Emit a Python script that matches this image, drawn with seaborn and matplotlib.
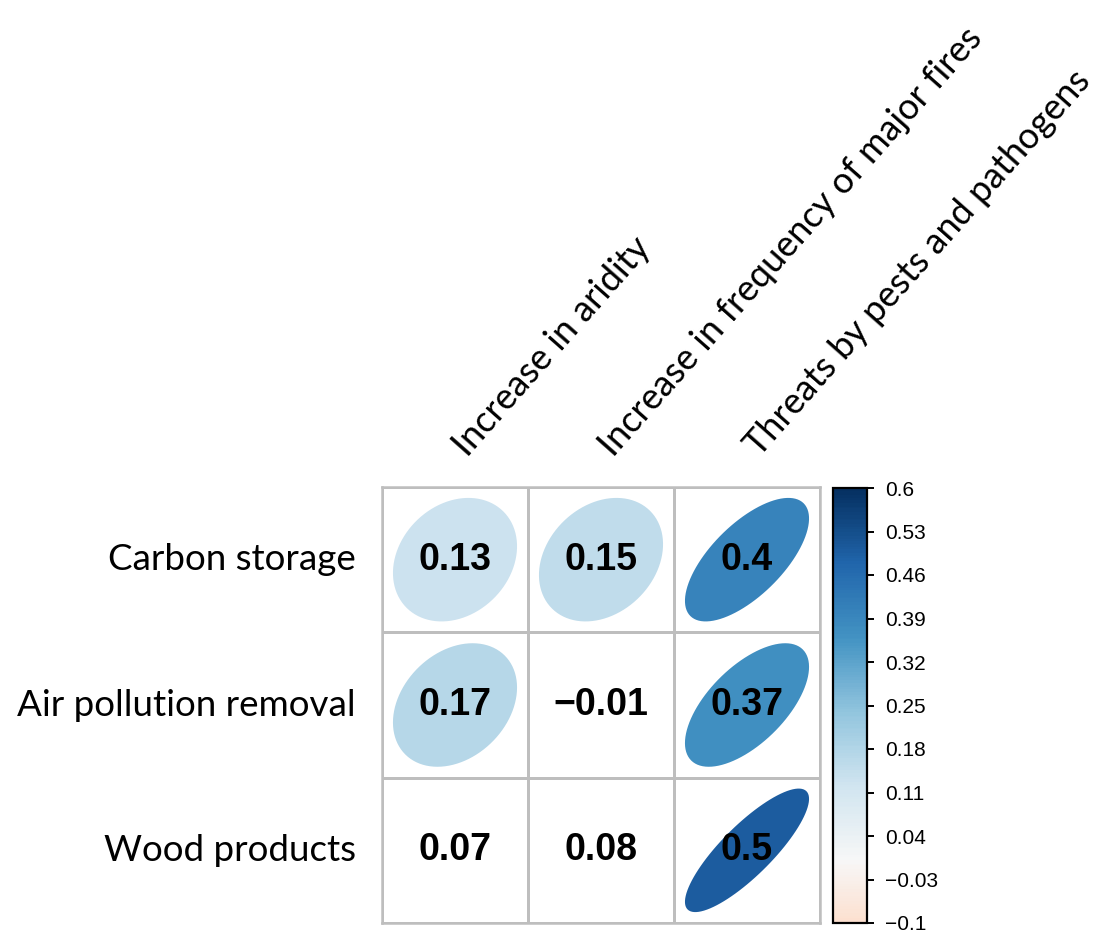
import numpy as np
import pandas as pd
import matplotlib
matplotlib.use("Agg")
import matplotlib.pyplot as plt
import seaborn as sns
from matplotlib.colors import ListedColormap, LinearSegmentedColormap, Normalize
from matplotlib.patches import Polygon
from matplotlib.transforms import offset_copy
import matplotlib as mpl

# ---- data ----
services = ["Carbon storage", "Air pollution removal", "Wood products"]
threats = ["Increase in aridity", "Increase in frequency of major fires",
           "Threats by pests and pathogens"]
values = [
    [0.13, 0.15, 0.40],
    [0.17, -0.01, 0.37],
    [0.07, 0.08, 0.50],
]
value_labels = [
    ["0.13", "0.15", "0.4"],
    ["0.17", "\u22120.01", "0.37"],
    ["0.07", "0.08", "0.5"],
]
# cells that get an ellipse glyph
significant = [
    [True, True, True],
    [True, False, True],
    [False, False, True],
]
cbar_ticks = [-0.1, -0.03, 0.04, 0.11, 0.18, 0.25, 0.32, 0.39, 0.46, 0.53, 0.6]
cbar_ticklabels = ["\u22120.1", "\u22120.03", "0.04", "0.11", "0.18", "0.25",
                   "0.32", "0.39", "0.46", "0.53", "0.6"]
col_lim = (-0.1, 0.6)

sns.set_theme(style="white")
plt.rcParams["font.family"] = ["Lato", "DejaVu Sans"]
plt.rcParams["text.color"] = "black"
plt.rcParams["xtick.color"] = "black"
plt.rcParams["ytick.color"] = "black"

W, H = 1101, 934
fig = plt.figure(figsize=(W / 100, H / 100), dpi=100)
fig.patch.set_facecolor("white")

def px_axes(x0, y0, x1, y1):
    return fig.add_axes([x0 / W, 1 - y1 / H, (x1 - x0) / W, (y1 - y0) / H])

ax = px_axes(382, 487, 820, 923)

df = pd.DataFrame(values, index=services, columns=threats)
grid_col = "#BEBEBE"
sns.heatmap(df, ax=ax, cmap=ListedColormap(["white"]), cbar=False,
            annot=np.array(value_labels), fmt="",
            annot_kws=dict(fontsize=27, fontweight="bold", color="black",
                           family="Liberation Sans"),
            linewidths=1.8, linecolor=grid_col, square=False)
for sp in ax.spines.values():
    sp.set_visible(True)
    sp.set_color(grid_col)
    sp.set_linewidth(1.8)

# ellipse glyphs (corrplot-style): shape and colour scaled by max |limit|
scale = max(abs(col_lim[0]), abs(col_lim[1]))
full_cmap = mpl.colormaps["RdBu"]
full_norm = Normalize(-scale, scale)
k = np.linspace(0, 2 * np.pi, 99)
for i, row in enumerate(values):
    for j, v in enumerate(row):
        if not significant[i][j]:
            continue
        rho = v / scale
        a = np.arccos(rho)
        ex = 0.85 * np.cos(k + a / 2) / 2
        ey = 0.85 * np.cos(k - a / 2) / 2
        # y axis is inverted in the heatmap, so flip the glyph vertically
        pts = np.column_stack([j + 0.5 + ex, i + 0.5 - ey])
        ax.add_patch(Polygon(pts, closed=True, facecolor=full_cmap(full_norm(v)),
                             edgecolor="none", zorder=1.5))

# row labels
ax.set_yticks(np.arange(len(services)) + 0.5)
ax.set_yticklabels(services, rotation=0, fontsize=26.5, color="black")
ax.tick_params(axis="y", length=0, pad=19)
ax.set_xticks([])
ax.set_xlabel("")
ax.set_ylabel("")

# rotated column labels above the grid
for j, name in enumerate(threats):
    tr = offset_copy(ax.transData, fig=fig, x=9, y=21, units="points")
    ax.text(j + 0.5, 0, name, rotation=48.5, rotation_mode="anchor",
            ha="left", va="baseline", fontsize=26, color="black",
            transform=tr, clip_on=False)

# colour bar showing the used part of the palette
lo = (col_lim[0] + scale) / (2 * scale)
hi = (col_lim[1] + scale) / (2 * scale)
part_cmap = LinearSegmentedColormap.from_list(
    "rdbu_part", full_cmap(np.linspace(lo, hi, 256)))
cax = px_axes(833, 488, 867, 923)
sm = mpl.cm.ScalarMappable(norm=Normalize(*col_lim), cmap=part_cmap)
cb = fig.colorbar(sm, cax=cax, ticks=cbar_ticks)
cb.ax.set_yticklabels(cbar_ticklabels)
cb.outline.set_edgecolor("black")
cb.outline.set_linewidth(1.6)
cax.tick_params(axis="y", right=True, direction="out", length=5, width=1.4,
                color="black", pad=8, labelsize=15, labelcolor="black")
for t in cax.get_yticklabels():
    t.set_family("Liberation Sans")

fig.savefig("out.png", dpi=100, facecolor="white")
